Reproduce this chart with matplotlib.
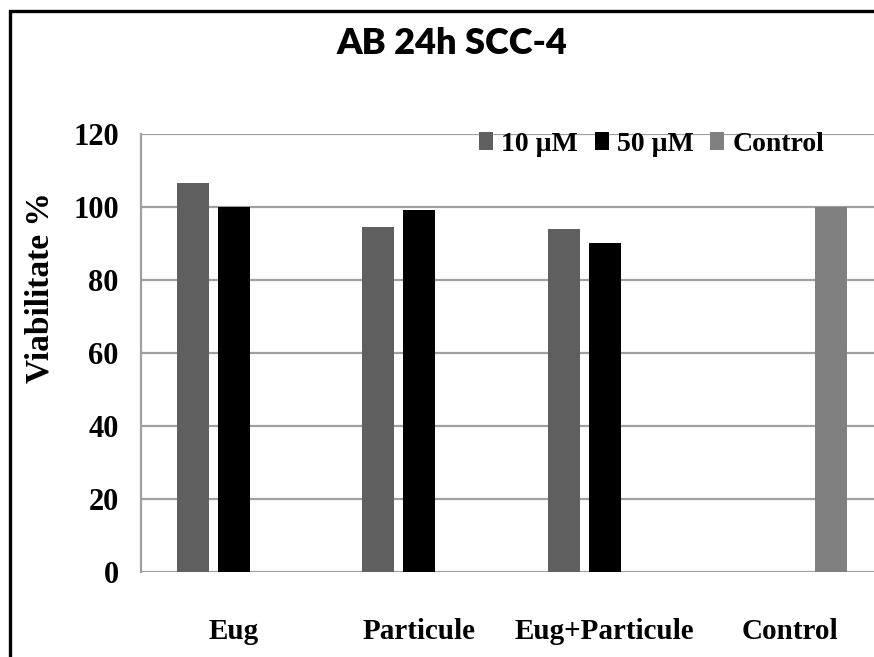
import matplotlib.pyplot as plt
import matplotlib.patches as patches
import numpy as np

# data
categories = ["Eug", "Particule", "Eug+Particule", "Control"]
series = ["10 \u00b5M", "50 \u00b5M", "Control"]
vals_10 = [106.5, 94.6, 94.1, 0]
vals_50 = [100.0, 99.2, 90.1, 0]
vals_ctrl = [0, 0, 0, 100.0]
colors = ["#5f5f5f", "#000000", "#808080"]

fig = plt.figure(figsize=(8.74, 6.57), dpi=100)
ax = fig.add_axes([141 / 874, 1 - 572 / 657, 742 / 874, 438 / 657])

x = np.arange(len(categories))
offs = [-0.221, 0.0, 0.221]
w = 0.17
for vals, off, c, lab in zip([vals_10, vals_50, vals_ctrl], offs, colors, series):
    v = np.array(vals, dtype=float)
    m = v > 0
    ax.bar(x[m] + off, v[m], w, color=c, label=lab, zorder=3)

ax.set_xlim(-0.5, 3.5)
ax.set_ylim(0, 120)
ax.set_yticks(range(0, 121, 20))
ax.yaxis.grid(True, color="#a0a0a0", linewidth=1.6, zorder=0)
ax.set_axisbelow(True)
for s in ["top", "right", "bottom"]:
    ax.spines[s].set_visible(False)
ax.spines["left"].set_color("#a0a0a0")
ax.spines["left"].set_linewidth(1.6)

tfont = dict(family="Liberation Serif", weight="bold", size=21)
ax.set_xticks(x)
ax.set_xticklabels(categories, fontdict=tfont)
ax.tick_params(axis="x", length=0, pad=33)
ax.tick_params(axis="y", length=0, pad=16)
for t in ax.get_yticklabels():
    t.set_family("Liberation Serif")
    t.set_weight("bold")
    t.set_size(22)

fig.text(40 / 874, 1 - 288 / 657, "Viabilitate %", rotation=90, ha="center", va="center",
         family="Liberation Serif", weight="bold", size=24)

fig.text(452 / 874, 1 - 44 / 657, "AB 24h SCC-4", ha="center", va="center",
         family="Lato", weight="heavy", size=26)

leg = ax.legend(loc="upper left", bbox_to_anchor=(479 / 874, 1 - 132 / 657),
                bbox_transform=fig.transFigure, ncol=3, frameon=False,
                prop=dict(family="Liberation Serif", weight="bold", size=20),
                handlelength=0.5, handleheight=0.6, handletextpad=0.3,
                columnspacing=0.6, borderaxespad=0, borderpad=0)

# outer frame (cropped on right and bottom)
fig.patches.append(patches.Rectangle((10 / 874, -0.2), 2, 1.2 - 11 / 657,
                                     transform=fig.transFigure, fill=False,
                                     edgecolor="black", linewidth=2.4, clip_on=False))

plt.savefig("out.png", dpi=100)
